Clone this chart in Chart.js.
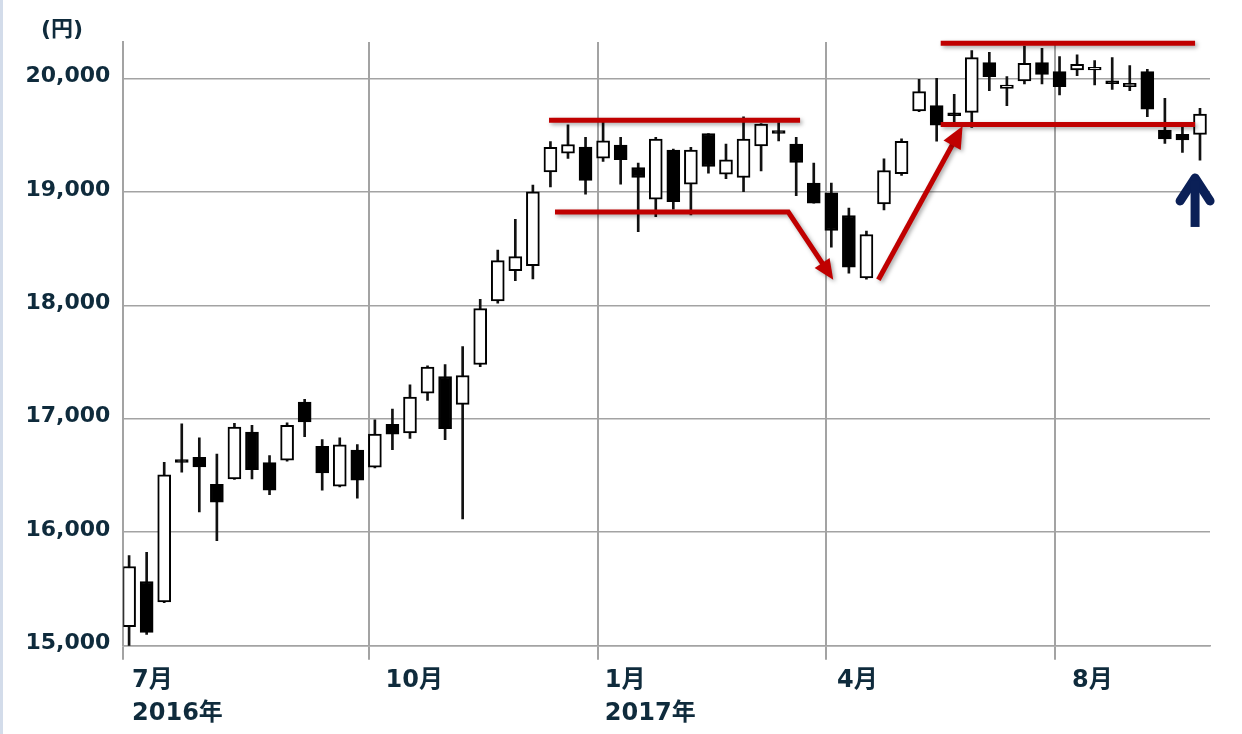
<!DOCTYPE html>
<html lang="ja">
<head>
<meta charset="utf-8">
<title>日経平均 週足</title>
<script src="https://cdn.jsdelivr.net/npm/chart.js@4.4.1/dist/chart.umd.min.js"></script>
<style>
html,body{margin:0;padding:0;background:#fff;}
#wrap{position:relative;width:1242px;height:734px;}
</style>
</head>
<body>
<div id="wrap"><canvas id="c"></canvas></div>
<script>
// weekly candles, late Jun 2016 - end Aug 2017
const opens  = [15168,15566,15386,16640,16661,16423,16470,16882,16614,16635,17147,16758,16405,16723,16574,16950,16874,17226,17372,17126,17478,18038,18305,18349,19176,19341,19394,19297,19411,19214,18935,19367,19068,19514,19156,19126,19405,19540,19420,19076,18991,18791,18242,18894,19159,19712,19759,19695,19700,20138,19912,19976,20138,20059,20074,20074,19978,19926,20059,19544,19506,19506];
const highs  = [15795,15822,16617,16956,16832,16688,16960,16941,16676,16965,17171,16817,16832,16773,16990,17085,17299,17466,17478,17636,18053,18487,18757,19059,19443,19590,19479,19620,19479,19253,19479,19376,19391,19514,19420,19661,19602,19611,19479,19253,19076,18856,18653,19291,19467,19991,20000,19859,20244,20229,20015,20285,20265,20191,20206,20156,20182,20112,20079,19824,19568,19735];
const lows   = [14990,15100,15380,16529,16178,15925,16465,16470,16331,16626,16841,16370,16400,16299,16566,16727,16827,17162,16815,16117,17460,18018,18217,18232,19044,19294,18979,19267,19068,18648,18780,18847,18797,19164,19115,19000,19185,19449,18965,18900,18512,18283,18230,18841,19144,19705,19447,19588,19568,19891,19759,19950,19950,19853,20024,19941,19903,19891,19662,19427,19347,19279];
const closes = [15698,15118,16505,16615,16576,16264,16926,16552,16370,16941,16971,16523,16770,16458,16865,16865,17190,17455,16912,17381,17971,18393,18428,19000,19391,19417,19100,19449,19282,19126,19464,18912,19367,19223,19282,19464,19596,19515,19258,18900,18659,18336,18624,19188,19444,19882,19588,19670,20182,20015,19941,20132,20035,19926,20124,20097,19953,19956,19729,19465,19456,19685];

const xMin = -0.33, xMax = 61.57;
const gridAt = [13.68, 26.7, 39.68, 52.72];
const labelAt = [0.17, 14.61, 27.1, 40.32, 53.71];
const labelText = [['7月','2016年'], ['10月'], ['1月','2017年'], ['4月'], ['8月']];
const yTicks = [15000, 16000, 17000, 18000, 19000, 20000];

// annotation paths in (week index, yen)
const boxTop    = [[23.92,19630],[38.22,19630]];
const breakDown = [[24.26,18821],[37.55,18821],[40.11,18225]];
const rebound   = [[42.68,18225],[47.48,19580]];
const newFloor  = [[46.23,19594],[60.72,19594]];
const newTop    = [[46.23,20309],[60.72,20309]];
const bluePoint = [60.72, 19166];

const FONT = "'DejaVu Sans','Noto Sans CJK JP',sans-serif";
const INK = '#0f2b3c';
const GRID = '#a3a3a3';

function drawArrow(ctx, pts, head){
  const n = pts.length;
  const [tx,ty] = pts[n-1], [px,py] = pts[n-2];
  const ang = Math.atan2(ty-py, tx-px);
  ctx.beginPath();
  ctx.moveTo(pts[0][0], pts[0][1]);
  for(let i=1;i<n-1;i++) ctx.lineTo(pts[i][0], pts[i][1]);
  ctx.lineTo(tx - Math.cos(ang)*head*0.7, ty - Math.sin(ang)*head*0.7);
  ctx.stroke();
  ctx.beginPath();
  ctx.moveTo(tx, ty);
  ctx.lineTo(tx - Math.cos(ang-0.42)*head, ty - Math.sin(ang-0.42)*head);
  ctx.lineTo(tx - Math.cos(ang+0.42)*head, ty - Math.sin(ang+0.42)*head);
  ctx.closePath();
  ctx.fill();
}

const annot = {
  id: 'annot',
  beforeDraw(chart){
    const ctx = chart.ctx;
    ctx.save();
    ctx.fillStyle = '#fff';
    ctx.fillRect(0, 0, chart.width, chart.height);
    ctx.fillStyle = '#d3dcea';
    ctx.fillRect(0, 0, 3, chart.height);
    ctx.restore();
  },
  afterDraw(chart){
    const ctx = chart.ctx, xs = chart.scales.x, ys = chart.scales.y;
    const P = p => [xs.getPixelForValue(p[0]), ys.getPixelForValue(p[1])];
    ctx.save();
    ctx.fillStyle = INK;
    ctx.font = 'bold 22px ' + FONT;
    ctx.textBaseline = 'middle';
    ctx.fillText('(円)', 41, 30);

    ctx.strokeStyle = '#c00000';
    ctx.fillStyle = '#c00000';
    ctx.lineWidth = 5;
    ctx.shadowColor = 'rgba(0,0,0,0.35)';
    ctx.shadowBlur = 4;
    ctx.shadowOffsetX = 2;
    ctx.shadowOffsetY = 2;
    for(const line of [boxTop, newFloor, newTop]){
      const a = P(line[0]), b = P(line[1]);
      ctx.beginPath(); ctx.moveTo(a[0], a[1]); ctx.lineTo(b[0], b[1]); ctx.stroke();
    }
    drawArrow(ctx, breakDown.map(P), 22);
    drawArrow(ctx, rebound.map(P), 24);

    ctx.shadowColor = 'transparent';
    const [bx, by] = P(bluePoint);
    ctx.strokeStyle = '#0b2057';
    ctx.lineWidth = 9;
    ctx.lineCap = 'round';
    ctx.lineJoin = 'round';
    ctx.beginPath();
    ctx.moveTo(bx-15, by+28); ctx.lineTo(bx, by+5); ctx.lineTo(bx+15, by+28);
    ctx.stroke();
    ctx.lineCap = 'butt';
    ctx.beginPath(); ctx.moveTo(bx, by+8); ctx.lineTo(bx, by+54); ctx.stroke();
    ctx.restore();
  }
};

const bodies = opens.map((o,i) => ({x:i, y:[o, closes[i]]}));
const wicks = lows.map((l,i) => ({x:i, y:[l, highs[i]]}));
const fills = opens.map((o,i) => closes[i] >= o ? '#ffffff' : '#000000');

new Chart(document.getElementById('c'), {
  type: 'bar',
  data: {
    datasets: [
      { label:'body', data:bodies, backgroundColor:fills, borderColor:'#000', borderWidth:2,
        borderSkipped:false, barThickness:13, grouped:false },
      { label:'wick', data:wicks, backgroundColor:'#111', borderWidth:0, barThickness:2, grouped:false }
    ]
  },
  options: {
    responsive: true,
    maintainAspectRatio: false,
    animation: false,
    devicePixelRatio: 1,
    layout: { padding: { top:42, right:32, left:0, bottom:0 } },
    plugins: { legend:{display:false}, tooltip:{enabled:false} },
    scales: {
      x: {
        type:'linear', min:xMin, max:xMax, offset:false,
        grid:{ color:GRID, lineWidth:2, offset:false, tickLength:14 },
        border:{ display:true, color:GRID, width:1.5 },
        ticks:{ display:false },
        afterBuildTicks: s => { s.ticks = [xMin, ...gridAt].map(v => ({value:v})); },
        afterFit: s => { s.height = 8; }
      },
      xl: {
        type:'linear', position:'bottom', min:xMin, max:xMax, offset:false,
        grid:{ display:false }, border:{ display:false },
        afterBuildTicks: s => { s.ticks = labelAt.map(v => ({value:v})); },
        ticks:{ align:'start', autoSkip:false, maxRotation:0, padding:3, color:INK,
          font:{ family:FONT, size:24, weight:'bold', lineHeight:1.35 },
          callback:(v,i) => labelText[i] },
        afterFit: s => { s.height = 80.3; }
      },
      y: {
        min:15000, max:20320,
        afterBuildTicks: s => { s.ticks = yTicks.map(v => ({value:v})); },
        grid:{ color:GRID, lineWidth:1.5, drawTicks:false },
        border:{ display:true, color:GRID, width:2 },
        ticks:{ padding:13, labelOffset:-2, color:INK, font:{ family:FONT, size:22, weight:'bold' },
          callback: v => v.toLocaleString('en-US') },
        afterFit: s => { s.width = 123.3; }
      }
    }
  },
  plugins: [annot]
});
</script>
</body>
</html>
